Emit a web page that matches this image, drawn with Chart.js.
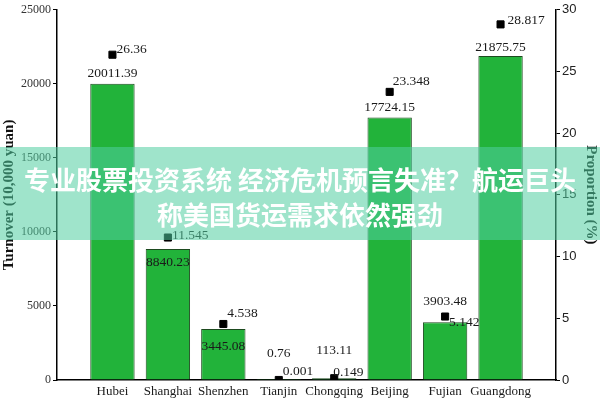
<!DOCTYPE html>
<html>
<head>
<meta charset="utf-8">
<script src="https://cdn.jsdelivr.net/npm/chart.js@4"></script>
<style>
  html, body { margin: 0; padding: 0; background: #fff; }
  #wrap { position: relative; width: 600px; height: 400px; }
  #banner {
    position: absolute; left: 0; top: 147px; width: 600px; height: 93px;
    background: rgba(80, 205, 160, 0.55);
    color: #fff; font-family: "Noto Sans CJK SC", sans-serif; font-weight: 700;
    font-size: 26px; line-height: 35px; text-align: center;
    padding-top: 14px; box-sizing: border-box; white-space: nowrap;
  }
</style>
</head>
<body>
<div id="wrap">
  <canvas id="chart" width="600" height="400"></canvas>
  <div id="banner">专业股票投资系统 经济危机预言失准？航运巨头<br>称美国货运需求依然强劲</div>
</div>
<script>
// chart data
const cities = ['Hubei', 'Shanghai', 'Shenzhen', 'Tianjin', 'Chongqing', 'Beijing', 'Fujian', 'Guangdong'];
const turnover = [20011.39, 8840.23, 3445.08, 0.76, 113.11, 17724.15, 3903.48, 21875.75];
const proportion = [26.36, 11.545, 4.538, 0.001, 0.149, 23.348, 5.142, 28.817];
const turnoverTicks = [0, 5000, 10000, 15000, 20000, 25000];
const proportionTicks = [0, 5, 10, 15, 20, 25, 30];

// hand placed label shifts (the original figure places them one by one)
const barLabelShift = [-10, 13, 17, -27, -28, -10, -21, -9];
const propLabelShift = [[4, -5], [4, -2], [4, -11], [4, -9], [-1, -6], [3, -10], [4, 6], [7, -4]];

const serif = '"Liberation Serif", "Times New Roman", serif';
const sans = '"Liberation Sans", Arial, sans-serif';

// one empty slot on each side, like the original x range
const labels = ['', ...cities, ''];
const pad = arr => [null, ...arr, null];

const valueLabels = {
  id: 'valueLabels',
  afterDatasetsDraw(chart) {
    const ctx = chart.ctx;
    ctx.save();
    ctx.font = '13.5px ' + serif;
    ctx.fillStyle = '#1a1a1a';
    ctx.textBaseline = 'middle';

    const bars = chart.getDatasetMeta(0).data;
    ctx.textAlign = 'center';
    turnover.forEach((v, i) => {
      const el = bars[i + 1];
      ctx.fillText(String(v), el.x, el.y + barLabelShift[i]);
    });

    const pts = chart.getDatasetMeta(1).data;
    ctx.textAlign = 'left';
    proportion.forEach((v, i) => {
      const el = pts[i + 1];
      const [dx, dy] = propLabelShift[i];
      ctx.fillText(String(v), el.x + dx, el.y + dy);
    });
    ctx.restore();
  }
};

new Chart(document.getElementById('chart'), {
  type: 'bar',
  data: {
    labels: labels,
    datasets: [
      {
        label: 'Turnover',
        data: pad(turnover),
        yAxisID: 'y',
        backgroundColor: '#22b33a',
        borderColor: '#1d4a1f',
        borderWidth: 1,
        barPercentage: 0.8,
        categoryPercentage: 1,
        order: 2
      },
      {
        type: 'line',
        label: 'Proportion',
        data: pad(proportion),
        yAxisID: 'y1',
        showLine: false,
        pointStyle: 'rect',
        pointRadius: 5,
        pointBackgroundColor: '#000',
        pointBorderColor: '#000',
        order: 1
      }
    ]
  },
  options: {
    responsive: false,
    animation: false,
    layout: { padding: { top: 5 } },
    plugins: { legend: { display: false }, tooltip: { enabled: false } },
    scales: {
      x: {
        offset: false,
        grid: { display: true, drawOnChartArea: false, drawTicks: false, color: '#000' },
        border: { color: '#000', width: 1.5 },
        ticks: { color: '#1a1a1a', font: { family: serif, size: 13 }, padding: 4, autoSkip: false, maxRotation: 0 },
        afterFit: s => { s.height = 20; }
      },
      y: {
        position: 'left',
        min: 0, max: 25000,
        afterBuildTicks: s => { s.ticks = turnoverTicks.map(v => ({ value: v })); },
        grid: { display: true, drawOnChartArea: false, tickLength: 4, color: '#000' },
        border: { color: '#000', width: 1.5 },
        ticks: { color: '#333', font: { family: serif, size: 12 }, padding: 2, callback: v => String(v) },
        title: { display: true, text: 'Turnover (10,000 yuan)', color: '#111', font: { family: serif, size: 15, weight: 'bold' }, padding: 0 },
        afterFit: s => { s.width = 57; }
      },
      y1: {
        position: 'right',
        min: 0, max: 30,
        afterBuildTicks: s => { s.ticks = proportionTicks.map(v => ({ value: v })); },
        grid: { display: true, drawOnChartArea: false, tickLength: 4, color: '#000' },
        border: { color: '#000', width: 1.5 },
        ticks: { color: '#222', font: { family: sans, size: 13 }, padding: 2, callback: v => String(v) },
        title: { display: true, text: 'Proportion (%)', color: '#111', font: { family: serif, size: 15, weight: 'bold' }, padding: 0 },
        afterFit: s => { s.width = 44; }
      }
    }
  },
  plugins: [valueLabels]
});
</script>
</body>
</html>
